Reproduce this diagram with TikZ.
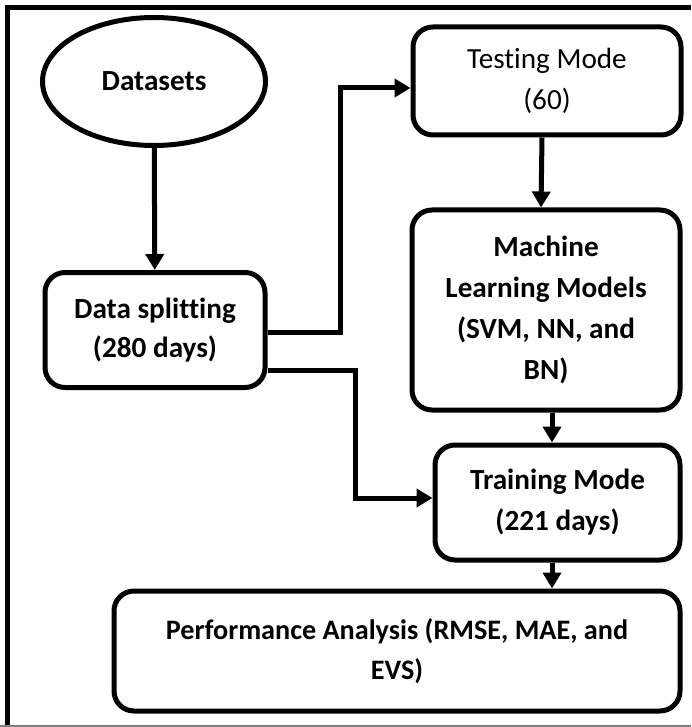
\documentclass[tikz,border=0pt]{standalone}
\usepackage{fontspec}
\setmainfont{Carlito}[Ligatures=NoCommon]
\usetikzlibrary{positioning,calc}
\usetikzlibrary{arrows.meta}
\usetikzlibrary{shapes}

\begin{document}
\begin{tikzpicture}[x=0.5pt, y=-0.5pt,
    box/.style={draw, line width=2.5pt, rounded corners=10pt, align=center, inner sep=2pt, font=\fontsize{14.6}{20.5}\selectfont\bfseries},
    conn/.style={line width=2.5pt, -{Triangle[length=8pt,width=9pt]}}]
  % \draw[step=50, gray!20!white, very thin] (0,0) grid (691,727);
  \useasboundingbox (0,0) rectangle (691,727);

  % frame
  \draw[line width=2.5pt] (7.5,727) -- (7.5,7.5) -- (691,7.5);
  \draw[gray, line width=0.6pt] (0,726) -- (691,726);

  \node[box, ellipse, rounded corners=0pt, minimum width=111.5pt, minimum height=64pt] at (154,81.5) (n_data) {Datasets};
  \node[box, minimum width=110pt, minimum height=57.5pt, font=\fontsize{14.6}{19.5}\selectfont\bfseries] at (155,330) (n_split) {Data splitting\\(280 days)};
  \node[box, minimum width=134pt, minimum height=54pt, font=\fontsize{14.6}{20.5}\selectfont] at (547,81) (n_test) {Testing Mode\\(60)};
  \node[box, minimum width=134pt, minimum height=100pt] at (546,310) (n_ml) {Machine\\Learning Models\\(SVM, NN, and\\BN)};
  \node[box, minimum width=122.5pt, minimum height=57.5pt] at (557.5,502.5) (n_train) {Training Mode\\(221 days)};
  \node[box, minimum width=283pt, minimum height=60pt, font=\fontsize{14.1}{20}\selectfont\bfseries] at (397,651) (n_perf) {Performance Analysis (RMSE, MAE, and\\EVS)};

  \coordinate (c_ml) at ($(n_ml.south)+(6,0)$);
  \coordinate (c_train) at ($(n_train.south)+(-5.5,0)$);

  \draw [conn] (n_data) -- (n_split);
  \draw [conn] ([yshift=-1pt]n_split.east) -- ++(73,0) |- ([yshift=-3.5pt]n_test.west);
  \draw [conn] ([xshift=-2.5pt]n_test.south) -- ([xshift=-2.5pt]n_ml.north);
  \draw [conn] (c_ml) -- (c_ml |- n_train.north);
  \draw [conn] ([yshift=-20pt]n_split.east) -- ++(88,0) |- ([yshift=2.25pt]n_train.west);
  \draw [conn] (c_train) -- (c_train |- n_perf.north);

\end{tikzpicture}
\end{document}
